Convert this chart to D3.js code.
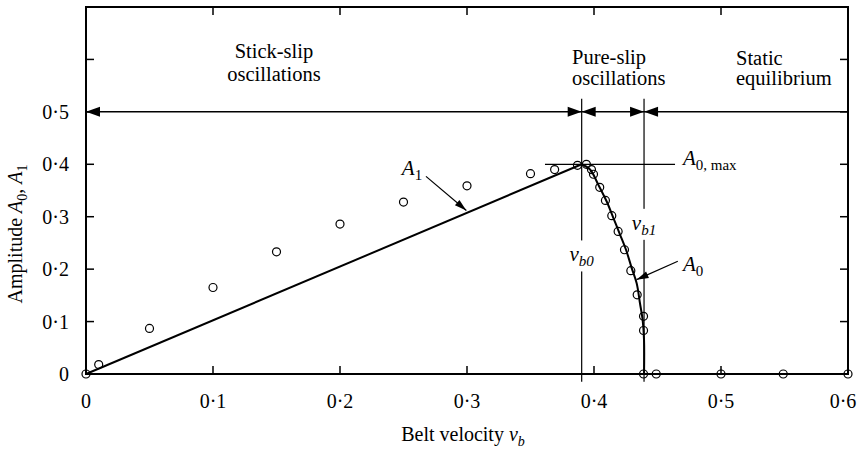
<!DOCTYPE html>
<html>
<head>
<meta charset="utf-8">
<script src="https://cdn.jsdelivr.net/npm/d3@7"></script>
<style>
  body { margin: 0; background: #fff; }
</style>
</head>
<body>
<div id="chart"></div>
<script>
// measured points (circles)
var expV = [0, 0.01, 0.05, 0.10, 0.15, 0.20, 0.25, 0.30, 0.35, 0.369, 0.387, 0.394, 0.398, 0.3996,
            0.4045, 0.409, 0.414, 0.419, 0.424, 0.429, 0.434, 0.439, 0.439, 0.439, 0.449, 0.50, 0.549, 0.60];
var expA = [0, 0.018, 0.087, 0.165, 0.233, 0.286, 0.328, 0.359, 0.382, 0.39, 0.398, 0.40, 0.39, 0.381,
            0.356, 0.331, 0.302, 0.272, 0.237, 0.197, 0.151, 0.11, 0.083, 0, 0, 0, 0, 0];

// A1 line (stick-slip)
var a1V = [0, 0.3903];
var a1A = [0, 0.40];

// A0 curve (pure-slip)
var a0V = [0.3903, 0.3969, 0.4034, 0.410, 0.4152, 0.4205, 0.4252, 0.4297, 0.4336, 0.4362, 0.4383, 0.4394, 0.4394];
var a0A = [0.40, 0.390, 0.361, 0.329, 0.298, 0.266, 0.237, 0.202, 0.173, 0.135, 0.103, 0.065, 0];

var vb0 = 0.3903;
var vb1 = 0.4394;
var a0max = 0.40;

var xTicks = [0, 0.1, 0.2, 0.3, 0.4, 0.5, 0.6];
var yTicks = [0, 0.1, 0.2, 0.3, 0.4, 0.5, 0.6, 0.7];
var yLabelTicks = [0, 0.1, 0.2, 0.3, 0.4, 0.5];

var width = 859;
var height = 450;
var margin = { left: 86, right: 11, top: 7, bottom: 76 };
var serif = "'Liberation Serif'";

var x = d3.scaleLinear().domain([0, 0.6]).range([margin.left, width - margin.right]);
var y = d3.scaleLinear().domain([0, 0.7]).range([height - margin.bottom, margin.top]);

var fmt = function (d) {
    return d === 0 ? '0' : d3.format('.1f')(d).replace('.', '\u00b7');
};

var svg = d3.select('#chart').append('svg')
    .attr('width', width)
    .attr('height', height)
    .style('font-family', serif);

// inward ticks on all four sides
var tickLen = 8;
var axes = svg.append('g').attr('stroke', '#000').attr('stroke-width', 1.5);
xTicks.forEach(function (t) {
    axes.append('line').attr('x1', x(t)).attr('x2', x(t))
        .attr('y1', y(0)).attr('y2', y(0) - tickLen);
    axes.append('line').attr('x1', x(t)).attr('x2', x(t))
        .attr('y1', y(0.7)).attr('y2', y(0.7) + tickLen);
});
yTicks.forEach(function (t) {
    axes.append('line').attr('x1', x(0)).attr('x2', x(0) + tickLen)
        .attr('y1', y(t)).attr('y2', y(t));
    axes.append('line').attr('x1', x(0.6)).attr('x2', x(0.6) - tickLen)
        .attr('y1', y(t)).attr('y2', y(t));
});

// frame
svg.append('rect')
    .attr('x', x(0)).attr('y', y(0.7))
    .attr('width', x(0.6) - x(0)).attr('height', y(0) - y(0.7))
    .attr('fill', 'none').attr('stroke', '#000').attr('stroke-width', 2);

// tick labels
svg.append('g').selectAll('text').data(xTicks).join('text')
    .attr('x', function (d) { return Math.min(x(d), width - 16); })
    .attr('y', y(0) + 34)
    .attr('text-anchor', 'middle')
    .attr('font-size', 20)
    .text(fmt);

svg.append('g').selectAll('text').data(yLabelTicks).join('text')
    .attr('x', x(0) - 17)
    .attr('y', function (d) { return y(d) + 7; })
    .attr('text-anchor', 'end')
    .attr('font-size', 20)
    .text(fmt);

// axis titles
var xt = svg.append('text')
    .attr('x', 463).attr('y', 441)
    .attr('text-anchor', 'middle')
    .attr('font-size', 20);
xt.append('tspan').text('Belt velocity ');
xt.append('tspan').attr('font-style', 'italic').text('v');
xt.append('tspan').attr('font-size', 14).attr('font-style', 'italic').attr('dy', 5).text('b');

var yt = svg.append('text')
    .attr('transform', 'translate(22,234) rotate(-90)')
    .attr('text-anchor', 'middle')
    .attr('font-size', 20);
yt.append('tspan').text('Amplitude ');
yt.append('tspan').attr('font-style', 'italic').text('A');
yt.append('tspan').attr('font-size', 14).attr('dy', 5).text('0');
yt.append('tspan').attr('dy', -5).text(', ');
yt.append('tspan').attr('font-style', 'italic').text('A');
yt.append('tspan').attr('font-size', 14).attr('dy', 5).text('1');

function arrowHead(g, tipX, tipY, angle, len, half) {
    // angle: direction in which the arrow points
    var c = Math.cos(angle), s = Math.sin(angle);
    var bx = tipX - c * len, by = tipY - s * len;
    var pts = [[tipX, tipY], [bx - s * half, by + c * half], [bx + s * half, by - c * half]];
    g.append('path').attr('d', 'M' + pts.join('L') + 'Z').attr('fill', '#000');
}

var ann = svg.append('g');

// regime arrow line at 0.5
ann.append('line')
    .attr('x1', x(0)).attr('x2', x(0.6))
    .attr('y1', y(0.5)).attr('y2', y(0.5))
    .attr('stroke', '#000').attr('stroke-width', 1.5);
arrowHead(ann, x(0), y(0.5), Math.PI, 14, 5);
arrowHead(ann, x(vb0), y(0.5), 0, 14, 5);
arrowHead(ann, x(vb0), y(0.5), Math.PI, 14, 5);
arrowHead(ann, x(vb1), y(0.5), 0, 14, 5);
arrowHead(ann, x(vb1), y(0.5), Math.PI, 14, 5);

// vertical lines at vb0 and vb1
[vb0, vb1].forEach(function (v) {
    ann.append('line')
        .attr('x1', x(v)).attr('x2', x(v))
        .attr('y1', y(0.525)).attr('y2', y(-0.015))
        .attr('stroke', '#000').attr('stroke-width', 1.2);
});

// A0,max line
ann.append('line')
    .attr('x1', x(0.3614)).attr('x2', x(0.4638))
    .attr('y1', y(a0max)).attr('y2', y(a0max))
    .attr('stroke', '#000').attr('stroke-width', 1.2);

// regime labels
function twoLine(lines, xv, yv, anchor) {
    lines.forEach(function (s, i) {
        svg.append('text')
            .attr('x', x(xv)).attr('y', y(yv[i]))
            .attr('text-anchor', anchor)
            .attr('font-size', 20.5)
            .text(s);
    });
}
twoLine(['Stick-slip', 'oscillations'], 0.148, [0.603, 0.559], 'middle');
twoLine(['Pure-slip', 'oscillations'], 0.3827, [0.592, 0.551], 'start');
twoLine(['Static', 'equilibrium'], 0.5118, [0.589, 0.551], 'start');

// vb labels with white gap behind
function vLabel(v, yv, sub) {
    var g = svg.append('g');
    var bg = g.append('rect').attr('fill', '#fff');
    var t = g.append('text')
        .attr('x', x(v)).attr('y', y(yv))
        .attr('text-anchor', 'middle')
        .attr('font-size', 21)
        .attr('font-style', 'italic')
        .style('font-family', serif);
    t.append('tspan').text('v');
    t.append('tspan').attr('font-size', 15).attr('dy', 5).text(sub);
    var bb = t.node().getBBox();
    bg.attr('x', bb.x - 1).attr('y', bb.y - 2).attr('width', bb.width + 2).attr('height', bb.height + 4);
}
vLabel(vb0, 0.2147, 'b0');
vLabel(vb1, 0.275, 'b1');

// A0,max label
var am = svg.append('text').attr('x', x(0.470)).attr('y', y(0.3977)).attr('font-size', 21);
am.append('tspan').attr('font-style', 'italic').text('A');
am.append('tspan').attr('font-size', 15).attr('dy', 5).text('0, max');

// A1 label and arrow
var a1t = svg.append('text').attr('x', x(0.2487)).attr('y', y(0.3805)).attr('font-size', 21);
a1t.append('tspan').attr('font-style', 'italic').text('A');
a1t.append('tspan').attr('font-size', 15).attr('dy', 5).text('1');

function pointer(fromV, fromA, toV, toA) {
    var x1 = x(fromV), y1 = y(fromA), x2 = x(toV), y2 = y(toA);
    ann.append('line').attr('x1', x1).attr('y1', y1).attr('x2', x2).attr('y2', y2)
        .attr('stroke', '#000').attr('stroke-width', 1.2);
    arrowHead(ann, x2, y2, Math.atan2(y2 - y1, x2 - x1), 12, 3.5);
}
pointer(0.2677, 0.377, 0.2995, 0.312);

// A0 label and arrow
var a0t = svg.append('text').attr('x', x(0.470)).attr('y', y(0.197)).attr('font-size', 21);
a0t.append('tspan').attr('font-style', 'italic').text('A');
a0t.append('tspan').attr('font-size', 15).attr('dy', 5).text('0');
pointer(0.466, 0.215, 0.4335, 0.18);

// model lines
var line = d3.line()
    .x(function (d) { return x(d[0]); })
    .y(function (d) { return y(d[1]); });

svg.append('path')
    .attr('d', line(d3.zip(a1V, a1A)))
    .attr('fill', 'none').attr('stroke', '#000').attr('stroke-width', 2);

svg.append('path')
    .attr('d', line.curve(d3.curveCatmullRom)(d3.zip(a0V, a0A)))
    .attr('fill', 'none').attr('stroke', '#000').attr('stroke-width', 2);

// experimental circles
svg.append('g').selectAll('circle').data(d3.zip(expV, expA)).join('circle')
    .attr('cx', function (d) { return x(d[0]); })
    .attr('cy', function (d) { return y(d[1]); })
    .attr('r', 4)
    .attr('fill', 'none')
    .attr('stroke', '#000')
    .attr('stroke-width', 1.2);

svg.selectAll('text').style('font-family', serif).attr('fill', '#000');
</script>
</body>
</html>
